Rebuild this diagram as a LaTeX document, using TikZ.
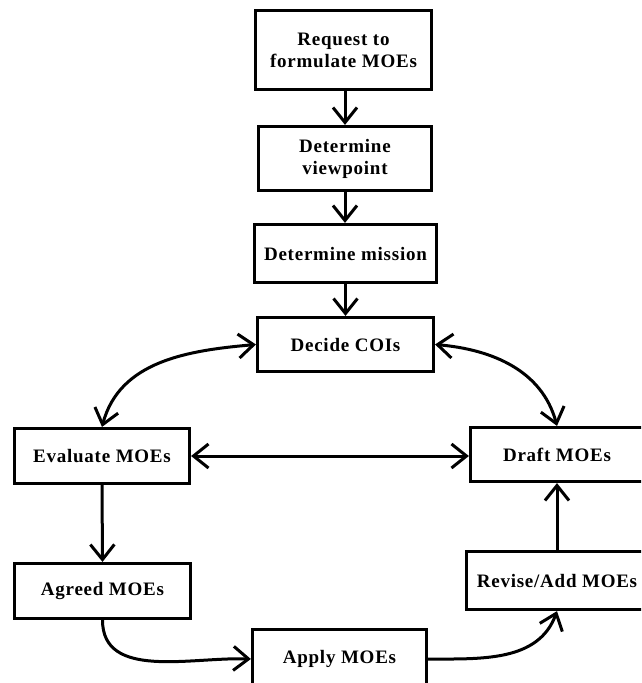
\documentclass[tikz,border=0pt]{standalone}
\usepackage{fontspec}
\setmainfont{Liberation Serif}[LetterSpace=4]
\usetikzlibrary{arrows.meta}
\begin{document}
\begin{tikzpicture}[x=1pt,y=-1pt,
  box/.style={draw, line width=3.2pt, rectangle, inner sep=0pt, align=center,
    font=\fontsize{19}{22}\selectfont\bfseries},
  tipA/.tip={Straight Barb[length=15pt,width=24pt,line width=3pt]},
  conn/.style={line width=3pt, -tipA},
  dconn/.style={line width=3pt, tipA-tipA}]
\fill[white] (0,0) rectangle (641,683);
\clip (0,0) rectangle (641,683);
\node[box, minimum width=176pt, minimum height=79pt] (b1) at (343.5,50) {Request to\\formulate MOEs};
\node[box, minimum width=173pt, minimum height=64pt] (b2) at (345,158.5) {Determine\\viewpoint};
\node[box, minimum width=182pt, minimum height=58pt] (b3) at (345.5,253.5) {Determine mission};
\node[box, minimum width=176pt, minimum height=54pt] (b4) at (345.5,344.5) {Decide COIs};
\node[box, minimum width=175pt, minimum height=55pt] (ev) at (102,456) {Evaluate MOEs};
\node[box, minimum width=173pt, minimum height=54pt] (dr) at (557,454.5) {Draft MOEs};
\node[box, minimum width=176pt, minimum height=55pt] (ag) at (102.5,591) {Agreed MOEs};
\node[box, minimum width=181pt, minimum height=58pt] (rv) at (557,580.5) {Revise/Add MOEs};
\node[box, minimum width=174pt, minimum height=59pt] (ap) at (339.5,659) {Apply MOEs};
\draw[conn] (b1.south -| b2.north) -- (b2.north);
\draw[conn] (b2.south) -- (b2.south |- b3.north);
\draw[conn] (b3.south) -- (b3.south |- b4.north);
\draw[dconn] (b4.west) to[out=185,in=75] (ev.north);
\draw[dconn] (b4.east) to[out=-5,in=105] (dr.north);
\draw[dconn] (ev.east) -- (dr.west |- ev.east);
\draw[conn] (ev.south) -- (ag.north);
\draw[conn] (ag.south) to[out=-90,in=178] (ap.west);
\draw[conn] (ap.east) to[out=0,in=-110] (rv.south);
\draw[conn] (rv.north) -- (dr.south);
\end{tikzpicture}
\end{document}
